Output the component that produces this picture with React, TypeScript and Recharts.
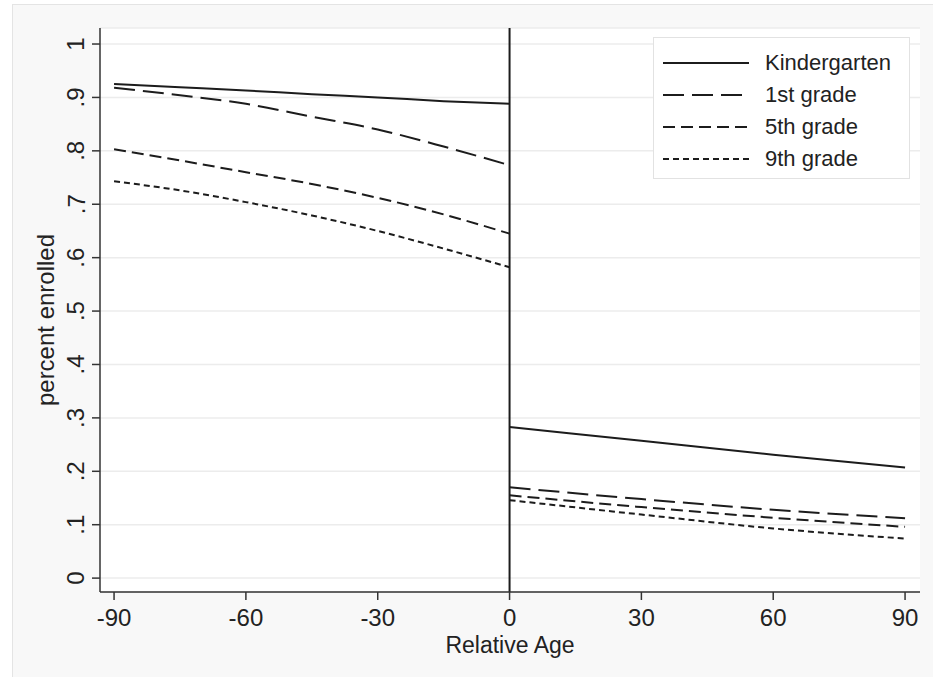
import { LineChart, Line, XAxis, YAxis, CartesianGrid, ReferenceLine, Legend } from 'recharts';

// relative age (days) on each side of the cutoff
const ageLeft = [-90, -75, -60, -45, -30, -15, 0];
const ageRight = [0, 30, 60, 90];

// share enrolled
const kindergartenLeft = [0.925, 0.919, 0.913, 0.906, 0.9, 0.893, 0.888];
const grade1Left = [0.918, 0.904, 0.888, 0.864, 0.84, 0.808, 0.773];
const grade5Left = [0.803, 0.782, 0.76, 0.738, 0.712, 0.681, 0.645];
const grade9Left = [0.743, 0.726, 0.704, 0.679, 0.65, 0.617, 0.582];

const kindergartenRight = [0.283, 0.257, 0.231, 0.207];
const grade1Right = [0.17, 0.148, 0.128, 0.112];
const grade5Right = [0.155, 0.133, 0.113, 0.096];
const grade9Right = [0.146, 0.119, 0.093, 0.074];

const xTicks = [-90, -60, -30, 0, 30, 60, 90];
const yTicks = [0, 0.1, 0.2, 0.3, 0.4, 0.5, 0.6, 0.7, 0.8, 0.9, 1];
const yTickLabels = ['0', '.1', '.2', '.3', '.4', '.5', '.6', '.7', '.8', '.9', '1'];

const ink = '#1c1c1c';
const axisInk = '#333';
const font = '"Liberation Sans", Arial, Helvetica, sans-serif';

const series = [
    { name: 'Kindergarten', left: 'kL', right: 'kR', dash: undefined as string | undefined },
    { name: '1st grade', left: 'g1L', right: 'g1R', dash: '21 8' },
    { name: '5th grade', left: 'g5L', right: 'g5R', dash: '12 6' },
    { name: '9th grade', left: 'g9L', right: 'g9R', dash: '6 4' },
];

const chartData = [
    ...ageLeft.map((x, i) => ({
        x,
        kL: kindergartenLeft[i],
        g1L: grade1Left[i],
        g5L: grade5Left[i],
        g9L: grade9Left[i],
    })),
    ...ageRight.map((x, i) => ({
        x,
        kR: kindergartenRight[i],
        g1R: grade1Right[i],
        g5R: grade5Right[i],
        g9R: grade9Right[i],
    })),
];

// Stata style: y labels turned on their side
const YTick = (props: any) => {
    const { x, y, payload } = props;
    const idx = yTicks.findIndex(t => Math.abs(t - payload.value) < 1e-9);
    return (
        <text
            x={x}
            y={y}
            transform={`rotate(-90 ${x} ${y})`}
            textAnchor="middle"
            dominantBaseline="central"
            fill="#222"
            fontSize={24}
        >
            {idx >= 0 ? yTickLabels[idx] : payload.value}
        </text>
    );
};

const YLabel = ({ viewBox }: any) => {
    const cx = viewBox.x + 45;
    const cy = viewBox.y + viewBox.height / 2 + 10;
    return (
        <text
            x={cx}
            y={cy}
            transform={`rotate(-90 ${cx} ${cy})`}
            textAnchor="middle"
            dominantBaseline="central"
            fill="#222"
            fontSize={24}
        >
            percent enrolled
        </text>
    );
};

const renderLegend = () => (
    <div
        style={{
            width: 257,
            height: 142,
            background: '#fff',
            border: '1px solid #e2e2e2',
            paddingTop: 9,
            boxSizing: 'border-box',
            fontFamily: font,
        }}
    >
        {series.map(s => (
            <div key={s.name} style={{ display: 'flex', alignItems: 'center', height: 32 }}>
                <svg width={86} height={10} style={{ marginLeft: 9 }}>
                    <line x1={0} y1={5} x2={86} y2={5} stroke={ink} strokeWidth={2} strokeDasharray={s.dash} />
                </svg>
                <span style={{ marginLeft: 16, fontSize: 22, color: '#222', lineHeight: '32px' }}>{s.name}</span>
            </div>
        ))}
    </div>
);

export default function App() {
    return (
        <div
            style={{
                position: 'absolute',
                left: 0,
                top: 0,
                width: 933,
                height: 677,
                overflow: 'hidden',
                background: '#fff',
                fontFamily: font,
            }}
        >
            <div
                style={{
                    position: 'absolute',
                    left: 12,
                    top: 4,
                    width: 940,
                    height: 700,
                    background: '#f8f8f8',
                    border: '1px solid #e4e4e4',
                }}
            />
            <div style={{ position: 'absolute', left: 0, top: 0 }}>
                <LineChart
                    width={933}
                    height={677}
                    data={chartData}
                    margin={{ top: 28, right: 13, left: 0, bottom: 0 }}
                >
                    <CartesianGrid vertical={false} stroke="#ececec" strokeWidth={1.5} fill="#fff" />
                    <XAxis
                        dataKey="x"
                        type="number"
                        domain={[-93.2, 93.4]}
                        allowDataOverflow
                        ticks={xTicks}
                        height={85}
                        tickSize={8}
                        tickMargin={9}
                        stroke={axisInk}
                        strokeWidth={1.5}
                        tick={{ fill: '#222', fontSize: 24 }}
                        label={{ value: 'Relative Age', position: 'insideBottom', offset: 24, fill: '#222', fontSize: 23 }}
                    />
                    <YAxis
                        type="number"
                        domain={[-0.026, 1.03]}
                        allowDataOverflow
                        ticks={yTicks}
                        width={100}
                        tickSize={8}
                        tickMargin={16}
                        stroke={axisInk}
                        strokeWidth={1.5}
                        tick={<YTick />}
                        label={{ content: <YLabel /> }}
                    />
                    <ReferenceLine x={0} stroke={ink} strokeWidth={2} />
                    {series.map(s => (
                        <Line
                            key={s.left}
                            dataKey={s.left}
                            name={s.name}
                            type="monotone"
                            stroke={ink}
                            strokeWidth={2}
                            strokeDasharray={s.dash}
                            dot={false}
                            activeDot={false}
                            isAnimationActive={false}
                        />
                    ))}
                    {series.map(s => (
                        <Line
                            key={s.right}
                            dataKey={s.right}
                            name={s.name}
                            type="monotone"
                            stroke={ink}
                            strokeWidth={2}
                            strokeDasharray={s.dash}
                            dot={false}
                            activeDot={false}
                            isAnimationActive={false}
                            legendType="none"
                        />
                    ))}
                    <Legend
                        layout="horizontal"
                        align="center"
                        verticalAlign="middle"
                        content={renderLegend}
                        wrapperStyle={{ left: 653, top: 37, width: 257, height: 142 }}
                    />
                </LineChart>
            </div>
        </div>
    );
}
